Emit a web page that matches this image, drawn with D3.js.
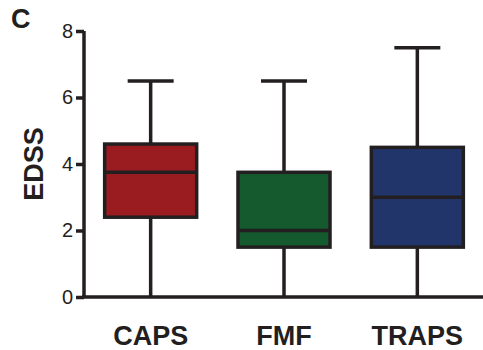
<!DOCTYPE html>
<html><head><meta charset="utf-8">
<script src="https://cdn.jsdelivr.net/npm/d3@7"></script>
<style>body{margin:0;background:#fff}svg{display:block}</style>
</head><body>
<script>
const categories = ["CAPS", "FMF", "TRAPS"];
const mins    = [0, 0, 0];
const q1s     = [2.4, 1.5, 1.5];
const medians = [3.75, 2.0, 3.0];
const q3s     = [4.6, 3.75, 4.5];
const maxs    = [6.5, 6.5, 7.5];
const colors  = ["#9b1c20", "#155a2e", "#22356b"];
const yTicks  = [0, 2, 4, 6, 8];

const W = 483, H = 350;
const svg = d3.select("body").append("svg").attr("width", W).attr("height", H);
const stroke = "#231f20";

const x = d3.scaleBand().domain(categories).range([84, 484]).paddingInner(0.31).paddingOuter(0.155);
const y = d3.scaleLinear().domain([0, 8]).range([297, 31]);

const data = categories.map((c, i) => ({c, min: mins[i], q1: q1s[i], med: medians[i], q3: q3s[i], max: maxs[i], color: colors[i]}));

const g = svg.append("g");
const bw = x.bandwidth();
data.forEach(d => {
  const cx = x(d.c) + bw / 2;
  g.append("line").attr("x1", cx).attr("x2", cx).attr("y1", y(d.max)).attr("y2", y(d.min))
    .attr("stroke", stroke).attr("stroke-width", 3.5);
  g.append("line").attr("x1", cx - bw * 0.25).attr("x2", cx + bw * 0.25).attr("y1", y(d.max)).attr("y2", y(d.max))
    .attr("stroke", stroke).attr("stroke-width", 3.5);
  g.append("rect").attr("x", x(d.c)).attr("width", bw).attr("y", y(d.q3)).attr("height", y(d.q1) - y(d.q3))
    .attr("fill", d.color).attr("stroke", stroke).attr("stroke-width", 3.5);
  g.append("line").attr("x1", x(d.c)).attr("x2", x(d.c) + bw).attr("y1", y(d.med)).attr("y2", y(d.med))
    .attr("stroke", stroke).attr("stroke-width", 3.5);
});

const yAxis = svg.append("g").attr("transform", "translate(84,0)")
  .call(d3.axisLeft(y).tickValues(yTicks).tickSize(8).tickPadding(3).tickFormat(d3.format("d")));
yAxis.select(".domain").attr("d", `M0,${y(8)}V${y(0)}`).attr("stroke", stroke).attr("stroke-width", 3.5);
yAxis.selectAll(".tick line").attr("stroke", stroke).attr("stroke-width", 3.5);
yAxis.selectAll(".tick text").attr("font-family", "Liberation Sans, Arial, sans-serif").attr("font-size", 20).attr("fill", "#231f20");

const xAxis = svg.append("g").attr("transform", "translate(0,297)")
  .call(d3.axisBottom(x).tickSize(0).tickPadding(29));
xAxis.select(".domain").attr("d", "M82,0H483").attr("stroke", stroke).attr("stroke-width", 3.5);
xAxis.selectAll(".tick text").attr("font-family", "Liberation Sans, Arial, sans-serif").attr("font-size", 27)
  .attr("font-weight", "bold").attr("fill", "#231f20").attr("dy", "0.71em");

svg.append("text").attr("transform", "translate(43,164) rotate(-90)").attr("text-anchor", "middle")
  .attr("font-family", "Liberation Sans, Arial, sans-serif").attr("font-size", 27).attr("font-weight", "bold")
  .attr("fill", "#231f20").text("EDSS");

svg.append("text").attr("x", 11).attr("y", 28).attr("font-family", "Liberation Sans, Arial, sans-serif")
  .attr("font-size", 27).attr("font-weight", "bold").attr("fill", "#231f20").text("C");
</script>
</body></html>
